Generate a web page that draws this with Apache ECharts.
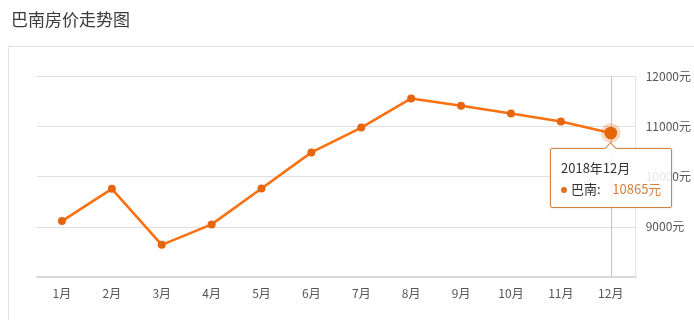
<!DOCTYPE html>
<html>
<head>
<meta charset="utf-8">
<style>
html,body{margin:0;padding:0;background:#fff;}
#chart{width:694px;height:320px;}
</style>
<script src="https://cdn.jsdelivr.net/npm/echarts@6/dist/echarts.min.js"></script>
</head>
<body>
<div id="chart"></div>
<script>
var titleText = '巴南房价走势图';
var months = ['1月','2月','3月','4月','5月','6月','7月','8月','9月','10月','11月','12月'];
var prices = [9113, 9754, 8640, 9047, 9760, 10480, 10973, 11553, 11407, 11253, 11093, 10865];
var seriesName = '巴南';
var tipLabels = ['2018年1月','2018年2月','2018年3月','2018年4月','2018年5月','2018年6月','2018年7月','2018年8月','2018年9月','2018年10月','2018年11月','2018年12月'];
var yMin = 8000, yMax = 12000, yStep = 1000;
var unit = '元';
var activeIndex = 11;

var lineColor = '#e5660f';
var chart = echarts.init(document.getElementById('chart'), null, {renderer:'canvas'});
var font = '"Noto Sans CJK SC", "Microsoft YaHei", sans-serif';

chart.setOption({
  animation: false,
  textStyle: {fontFamily: font},
  title: {
    text: titleText, left: 6, top: 6,
    textStyle: {fontSize: 17, fontWeight: 'normal', color: '#3a3a3a', fontFamily: font}
  },
  graphic: [{
    type: 'rect', silent: true, z: -1,
    shape: {x: 8.5, y: 46.5, width: 700, height: 300},
    style: {fill: 'none', stroke: '#e2e2e2', lineWidth: 1}
  }],
  grid: {left: 37, right: 58, top: 76, bottom: 43},
  tooltip: {
    trigger: 'axis',
    alwaysShowContent: true,
    triggerOn: 'none',
    backgroundColor: 'rgba(255,255,255,0.85)',
    borderColor: '#d5803f',
    borderWidth: 1,
    padding: [8, 10, 8, 10],
    textStyle: {color: '#333', fontSize: 13, fontFamily: font},
    extraCssText: 'box-shadow:0 0 3px rgba(0,0,0,0.15);border-radius:2px;',
    axisPointer: {type: 'line', z: 1, lineStyle: {color: '#c4c4c4', width: 1, type: 'solid'}},
    position: function (point, params, dom, rect, size) {
      var p = chart.convertToPixel({seriesIndex: 0}, [activeIndex, prices[activeIndex]]);
      return [p[0] - size.contentSize[0] / 2, p[1] + 15];
    },
    formatter: function (params) {
      var p = params[0];
      return '<div style="position:relative;line-height:21px;">' +
        '<div style="position:absolute;left:50%;top:-13px;width:8px;height:8px;margin-left:-5px;background:#fff;border-left:1px solid #d5803f;border-top:1px solid #d5803f;transform:rotate(45deg);"></div>' +
        '<div>' + tipLabels[p.dataIndex] + '</div>' +
        '<div><span style="display:inline-block;width:6px;height:6px;border-radius:3px;background:#e07020;margin-right:4px;vertical-align:middle;"></span>' +
        p.seriesName + ':&nbsp;&nbsp;&nbsp;&nbsp;<span style="color:#d5803f;">' + p.value + unit + '</span></div>' +
        '</div>';
    }
  },
  xAxis: {
    type: 'category',
    data: months,
    boundaryGap: true,
    axisLine: {lineStyle: {color: '#d9d9d9', width: 2}},
    axisTick: {alignWithLabel: true, length: 4, lineStyle: {color: '#e0e0e0'}},
    axisLabel: {color: '#555', fontSize: 12, margin: 10}
  },
  yAxis: {
    type: 'value',
    position: 'right',
    min: yMin, max: yMax, interval: yStep,
    axisLine: {show: true, lineStyle: {color: '#e6e6e6'}},
    axisTick: {show: false},
    axisLabel: {color: '#555', fontSize: 12, margin: 10, showMinLabel: false,
      formatter: function (v) { return v + unit; }},
    splitLine: {lineStyle: {color: '#e0e0e0'}}
  },
  series: [{
    name: seriesName,
    type: 'line',
    data: prices,
    z: 5,
    symbol: 'circle',
    symbolSize: 8,
    lineStyle: {color: lineColor, width: 2.6},
    itemStyle: {color: lineColor},
    emphasis: {
      scale: 1.6,
      itemStyle: {color: lineColor, borderColor: 'rgba(232,101,12,0.25)', borderWidth: 7}
    }
  }]
});

chart.dispatchAction({type: 'showTip', seriesIndex: 0, dataIndex: activeIndex});
chart.dispatchAction({type: 'highlight', seriesIndex: 0, dataIndex: activeIndex});
</script>
</body>
</html>
